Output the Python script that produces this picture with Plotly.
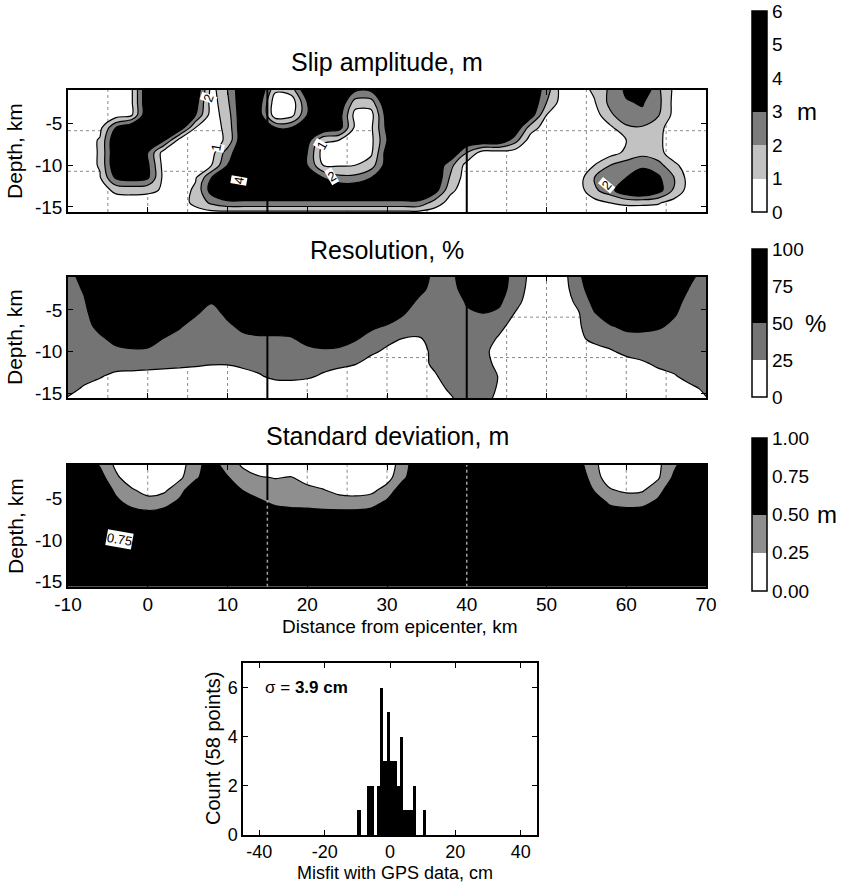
import plotly.graph_objects as go

FONT = "Liberation Sans"
W, H = 850, 882

# ---------------- data ----------------
dist_km = [-10, -8, -6, -4, -2, 0, 2, 4, 6, 8,
           10, 12, 14, 16, 18, 20, 22, 24, 26, 28,
           30, 32, 34, 36, 38, 40, 42, 44, 46, 48,
           50, 52, 54, 56, 58, 60, 62, 64, 66, 68, 70]
depth_km = [-1.0, -2.5, -4.0, -5.5, -7.0, -8.5, -10.0, -11.5, -13.0, -14.5, -15.6]

# slip amplitude, m (rows = depth_km, columns = dist_km)
slip_m = [
    [0.5, 0.5, 0.5, 0.5, 0.9, 4, 4, 4, 4, 0.6,
     2.0, 4, 4, 1.2, 1.5, 4, 4, 4, 3.2, 3.2,
     4, 4, 4, 4, 4, 4, 4, 4, 4, 4,
     2.5, 0.5, 0.5, 1.2, 2.2, 3.2, 4, 2.2, 0.8, 0.5, 0.5],
    [0.5, 0.5, 0.5, 0.5, 0.9, 4, 4, 4, 3.5, 0.5,
     1.8, 4, 3.5, 0.3, 0.3, 3.0, 4, 4, 1.5, 1.5,
     4, 4, 4, 4, 4, 4, 4, 4, 4, 4,
     2.0, 0.5, 0.5, 0.9, 2.3, 2.9, 3.1, 2.3, 0.7, 0.5, 0.5],
    [0.5, 0.5, 0.5, 0.5, 0.9, 4, 4, 4, 3.0, 0.5,
     1.5, 4, 3.5, 0.3, 0.6, 3.0, 4, 3.5, 0.6, 0.6,
     3.5, 4, 4, 4, 4, 4, 4, 4, 4, 3.6,
     1.0, 0.5, 0.5, 0.5, 1.8, 2.7, 2.8, 2.1, 0.7, 0.5, 0.5],
    [0.5, 0.5, 0.7, 3.0, 4, 4, 4, 3.8, 1.0, 0.5,
     1.3, 4, 4, 3.0, 3.0, 4, 4, 3.5, 0.8, 0.8,
     3.3, 4, 4, 4, 4, 4, 4, 4, 4, 1.5,
     0.5, 0.5, 0.5, 0.5, 0.8, 1.8, 1.9, 1.3, 0.5, 0.5, 0.5],
    [0.5, 0.5, 1.1, 4, 4, 4, 3.2, 0.6, 0.5, 0.5,
     1.2, 4, 4, 4, 4, 3.5, 1.2, 1.0, 0.5, 0.7,
     3.0, 4, 4, 4, 4, 4, 4, 4, 2.5, 0.5,
     0.5, 0.5, 0.5, 0.5, 0.5, 1.0, 1.6, 1.2, 0.5, 0.5, 0.5],
    [0.5, 0.5, 1.1, 4, 4, 3.0, 0.5, 0.5, 0.5, 0.6,
     2.5, 4, 4, 4, 4, 3.0, 0.5, 0.5, 0.5, 0.8,
     3.5, 4, 4, 4, 4, 2.0, 0.5, 0.5, 0.5, 0.5,
     0.5, 0.5, 0.5, 0.5, 0.6, 1.2, 1.8, 1.3, 0.5, 0.5, 0.5],
    [0.5, 0.5, 1.1, 4, 4, 3.2, 0.6, 0.5, 0.5, 1.0,
     3.0, 4, 4, 4, 4, 3.0, 1.0, 0.9, 1.0, 1.5,
     3.5, 4, 4, 4, 2.3, 0.6, 0.5, 0.5, 0.5, 0.5,
     0.5, 0.5, 0.5, 1.0, 2.0, 2.5, 2.5, 2.4, 1.2, 0.5, 0.5],
    [0.5, 0.5, 0.9, 3.2, 3.5, 3.2, 0.7, 0.5, 0.9, 3.0,
     4, 4, 4, 4, 4, 4, 3.0, 2.3, 2.3, 3.0,
     4, 4, 4, 4, 1.8, 0.5, 0.5, 0.5, 0.5, 0.5,
     0.5, 0.5, 0.5, 2.0, 2.7, 3.0, 4.5, 3.2, 2.0, 0.5, 0.5],
    [0.5, 0.5, 0.6, 1.2, 1.3, 1.2, 0.9, 0.5, 1.2, 3.5,
     4, 4, 4, 4, 4, 4, 4, 4, 4, 4,
     4, 4, 4, 3.5, 1.2, 0.5, 0.5, 0.5, 0.5, 0.5,
     0.5, 0.5, 0.5, 1.8, 2.6, 4.0, 4.5, 3.5, 1.8, 0.5, 0.5],
    [0.5, 0.5, 0.5, 0.5, 0.5, 0.5, 0.5, 0.5, 1.3, 2.2,
     2.8, 2.8, 2.8, 2.8, 2.8, 2.8, 2.8, 2.8, 2.8, 2.8,
     2.8, 2.8, 2.8, 1.5, 0.6, 0.5, 0.5, 0.5, 0.5, 0.5,
     0.5, 0.5, 0.5, 0.6, 1.0, 1.2, 1.2, 1.1, 0.6, 0.5, 0.5],
    [0.5, 0.5, 0.5, 0.5, 0.5, 0.5, 0.5, 0.5, 0.6, 0.8,
     0.8, 0.8, 0.8, 0.8, 0.8, 0.8, 0.8, 0.8, 0.8, 0.8,
     0.8, 0.8, 0.8, 0.6, 0.5, 0.5, 0.5, 0.5, 0.5, 0.5,
     0.5, 0.5, 0.5, 0.5, 0.5, 0.5, 0.5, 0.5, 0.5, 0.5, 0.5],
]

# resolution, %
resolution_pct = [
    [40, 60, 70, 70, 70, 70, 70, 70, 70, 70,
     70, 70, 70, 70, 70, 70, 70, 70, 70, 70,
     70, 70, 70, 40, 45, 62, 70, 66, 40, 20,
     10, 15, 45, 70, 70, 70, 70, 70, 70, 55, 40],
    [40, 52, 70, 70, 70, 70, 70, 70, 70, 70,
     70, 70, 70, 70, 70, 70, 70, 70, 70, 70,
     70, 70, 58, 40, 40, 62, 65, 63, 38, 18,
     10, 14, 40, 65, 70, 70, 70, 70, 66, 48, 40],
    [38, 48, 68, 70, 70, 70, 70, 70, 65, 52,
     65, 70, 70, 70, 70, 70, 70, 70, 70, 70,
     70, 65, 45, 40, 38, 52, 62, 55, 33, 15,
     10, 15, 30, 58, 65, 65, 65, 65, 58, 42, 40],
    [36, 45, 62, 65, 65, 65, 65, 60, 52, 40,
     55, 62, 65, 65, 65, 65, 65, 65, 65, 65,
     62, 51, 42, 40, 40, 47, 49, 45, 24, 12,
     10, 12, 23, 48, 62, 65, 65, 62, 52, 40, 40],
    [33, 42, 56, 65, 65, 65, 62, 52, 40, 38,
     45, 56, 58, 58, 60, 62, 62, 62, 60, 54,
     48, 42, 40, 38, 38, 42, 40, 32, 15, 12,
     12, 12, 22, 38, 48, 55, 56, 53, 45, 40, 40],
    [30, 38, 46, 56, 60, 60, 49, 42, 40, 40,
     42, 44, 47, 47, 48, 56, 60, 58, 52, 42,
     32, 24, 22, 35, 38, 40, 38, 22, 12, 12,
     12, 12, 18, 33, 38, 42, 42, 40, 38, 38, 40],
    [28, 35, 40, 45, 47, 46, 42, 40, 38, 36,
     36, 38, 40, 40, 42, 45, 47, 46, 40, 30,
     20, 15, 18, 30, 38, 40, 32, 15, 12, 12,
     12, 12, 12, 12, 22, 32, 38, 40, 40, 40, 40],
    [27, 32, 35, 36, 36, 34, 32, 30, 28, 26,
     26, 29, 32, 34, 34, 33, 32, 30, 26, 14,
     12, 12, 16, 30, 40, 42, 35, 18, 12, 12,
     12, 12, 12, 12, 12, 14, 20, 30, 36, 38, 40],
    [30, 30, 27, 18, 16, 15, 14, 14, 14, 14,
     14, 18, 23, 30, 31, 28, 22, 15, 12, 12,
     12, 12, 12, 22, 38, 42, 40, 24, 12, 12,
     12, 12, 12, 12, 12, 12, 12, 15, 22, 35, 40],
    [30, 23, 14, 12, 12, 12, 12, 12, 12, 12,
     12, 12, 12, 12, 12, 12, 12, 12, 12, 12,
     12, 12, 12, 14, 30, 42, 38, 22, 12, 12,
     12, 12, 12, 12, 12, 12, 12, 12, 12, 18, 30],
    [24, 12, 12, 12, 12, 12, 12, 12, 12, 12,
     12, 12, 12, 12, 12, 12, 12, 12, 12, 12,
     12, 12, 12, 12, 22, 40, 36, 18, 12, 12,
     12, 12, 12, 12, 12, 12, 12, 12, 12, 12, 24],
]

# standard deviation, m
std_dev_m = [
    [0.7, 0.7, 0.48, 0.2, 0.1, 0.1, 0.1, 0.15, 0.4, 0.65,
     0.35, 0.22, 0.1, 0.1, 0.1, 0.1, 0.1, 0.1, 0.1, 0.1,
     0.1, 0.38, 0.7, 0.7, 0.7, 0.7, 0.7, 0.7, 0.7, 0.7,
     0.7, 0.7, 0.6, 0.3, 0.1, 0.1, 0.1, 0.2, 0.45, 0.7, 0.7],
    [0.7, 0.7, 0.6, 0.3, 0.1, 0.1, 0.1, 0.2, 0.45, 0.7,
     0.52, 0.33, 0.27, 0.24, 0.26, 0.18, 0.12, 0.1, 0.1, 0.1,
     0.15, 0.45, 0.7, 0.7, 0.7, 0.7, 0.7, 0.7, 0.7, 0.7,
     0.7, 0.7, 0.7, 0.35, 0.12, 0.1, 0.1, 0.22, 0.55, 0.7, 0.7],
    [0.7, 0.7, 0.7, 0.45, 0.28, 0.15, 0.2, 0.4, 0.7, 0.7,
     0.7, 0.48, 0.38, 0.36, 0.34, 0.3, 0.26, 0.18, 0.15, 0.18,
     0.35, 0.65, 0.7, 0.7, 0.7, 0.7, 0.7, 0.7, 0.7, 0.7,
     0.7, 0.7, 0.7, 0.48, 0.27, 0.2, 0.22, 0.4, 0.7, 0.7, 0.7],
    [0.7, 0.7, 0.7, 0.56, 0.42, 0.36, 0.4, 0.56, 0.7, 0.7,
     0.7, 0.7, 0.55, 0.45, 0.42, 0.4, 0.38, 0.36, 0.36, 0.4,
     0.55, 0.7, 0.7, 0.7, 0.7, 0.7, 0.7, 0.7, 0.7, 0.7,
     0.7, 0.7, 0.7, 0.7, 0.44, 0.42, 0.42, 0.56, 0.7, 0.7, 0.7],
    [0.7, 0.7, 0.7, 0.7, 0.62, 0.58, 0.62, 0.7, 0.7, 0.7,
     0.7, 0.7, 0.7, 0.65, 0.62, 0.62, 0.6, 0.6, 0.6, 0.62,
     0.7, 0.7, 0.7, 0.7, 0.7, 0.7, 0.7, 0.7, 0.7, 0.7,
     0.7, 0.7, 0.7, 0.7, 0.7, 0.62, 0.65, 0.7, 0.7, 0.7, 0.7],
    [0.8, 0.8, 0.8, 0.8, 0.8, 0.8, 0.8, 0.8, 0.8, 0.8,
     0.8, 0.8, 0.8, 0.8, 0.8, 0.8, 0.8, 0.8, 0.8, 0.8,
     0.8, 0.8, 0.8, 0.8, 0.8, 0.8, 0.8, 0.8, 0.8, 0.8,
     0.8, 0.8, 0.8, 0.8, 0.8, 0.8, 0.8, 0.8, 0.8, 0.8, 0.8],
    [0.8, 0.8, 0.8, 0.8, 0.8, 0.8, 0.8, 0.8, 0.8, 0.8,
     0.8, 0.8, 0.8, 0.8, 0.8, 0.8, 0.8, 0.8, 0.8, 0.8,
     0.8, 0.8, 0.8, 0.8, 0.8, 0.8, 0.8, 0.8, 0.8, 0.8,
     0.8, 0.8, 0.8, 0.8, 0.8, 0.8, 0.8, 0.8, 0.8, 0.8, 0.8],
    [0.8, 0.8, 0.8, 0.8, 0.8, 0.8, 0.8, 0.8, 0.8, 0.8,
     0.8, 0.8, 0.8, 0.8, 0.8, 0.8, 0.8, 0.8, 0.8, 0.8,
     0.8, 0.8, 0.8, 0.8, 0.8, 0.8, 0.8, 0.8, 0.8, 0.8,
     0.8, 0.8, 0.8, 0.8, 0.8, 0.8, 0.8, 0.8, 0.8, 0.8, 0.8],
    [0.8, 0.8, 0.8, 0.8, 0.8, 0.8, 0.8, 0.8, 0.8, 0.8,
     0.8, 0.8, 0.8, 0.8, 0.8, 0.8, 0.8, 0.8, 0.8, 0.8,
     0.8, 0.8, 0.8, 0.8, 0.8, 0.8, 0.8, 0.8, 0.8, 0.8,
     0.8, 0.8, 0.8, 0.8, 0.8, 0.8, 0.8, 0.8, 0.8, 0.8, 0.8],
    [0.8, 0.8, 0.8, 0.8, 0.8, 0.8, 0.8, 0.8, 0.8, 0.8,
     0.8, 0.8, 0.8, 0.8, 0.8, 0.8, 0.8, 0.8, 0.8, 0.8,
     0.8, 0.8, 0.8, 0.8, 0.8, 0.8, 0.8, 0.8, 0.8, 0.8,
     0.8, 0.8, 0.8, 0.8, 0.8, 0.8, 0.8, 0.8, 0.8, 0.8, 0.8],
    [0.8, 0.8, 0.8, 0.8, 0.8, 0.8, 0.8, 0.8, 0.8, 0.8,
     0.8, 0.8, 0.8, 0.8, 0.8, 0.8, 0.8, 0.8, 0.8, 0.8,
     0.8, 0.8, 0.8, 0.8, 0.8, 0.8, 0.8, 0.8, 0.8, 0.8,
     0.8, 0.8, 0.8, 0.8, 0.8, 0.8, 0.8, 0.8, 0.8, 0.8, 0.8],
]

# GPS misfit histogram (1 cm bins)
misfit_bin_center_cm = [-9.5, -6.5, -5.5, -3.5, -2.5, -1.5, -0.5, 0.5,
                        1.5, 2.5, 3.5, 4.5, 5.5, 6.5, 7.5, 10.5]
misfit_count = [1, 2, 2, 2, 6, 3, 5, 3, 3, 2, 4, 1, 1, 1, 2, 1]

segment_boundaries_km = [15, 40]
grid_x_km = [-5, 0, 5, 10, 15, 20, 25, 30, 35, 40, 45, 50, 55, 60, 65]
subfault_rows_km = [-5.87, -10.73]

dist_ticks = [-10, 0, 10, 20, 30, 40, 50, 60, 70]
depth_ticks = [-5, -10, -15]
misfit_ticks = [-40, -20, 0, 20, 40]
count_ticks = [0, 2, 4, 6]
slip_ticks = [0, 1, 2, 3, 4, 5, 6]
res_ticks = [0, 25, 50, 75, 100]
std_ticks = [0, 0.25, 0.5, 0.75, 1.0]
std_ticktext = ["0.00", "0.25", "0.50", "0.75", "1.00"]

# ---------------- styling ----------------
T = "rgba(255,255,255,0)"
SLIP_L, SLIP_D = "#c2c2c2", "#7c7c7c"
RES_G = "#747474"
STD_G = "#8e8e8e"


def pxx(v):
    return v / W


def pyy(v):
    return 1 - v / H


def labels(vals):
    return [str(v) for v in vals]


X_DOM = [pxx(68), pxx(706)]
PANEL_Y = [[pyy(212), pyy(90)], [pyy(398), pyy(276.7)], [pyy(586.7), pyy(465)]]
HX_DOM = [pxx(243), pxx(537)]
HY_DOM = [pyy(835), pyy(663)]

slip_fill = [[0, T], [1 / 6, T], [1 / 6, SLIP_L], [0.5, SLIP_L], [0.5, SLIP_D],
             [5 / 6, SLIP_D], [5 / 6, "black"], [1, "black"]]
res_fill = [[0, T], [0.25, T], [0.25, RES_G], [0.75, RES_G], [0.75, "black"], [1, "black"]]
std_fill = [[0, T], [0.25, T], [0.25, STD_G], [0.75, STD_G], [0.75, "black"], [1, "black"]]

slip_cb = [[0, "white"], [1 / 6, "white"], [1 / 6, SLIP_L], [2 / 6, SLIP_L], [2 / 6, SLIP_D],
           [3 / 6, SLIP_D], [3 / 6, "black"], [1, "black"]]
res_cb = [[0, "white"], [0.25, "white"], [0.25, RES_G], [0.5, RES_G], [0.5, "black"], [1, "black"]]
std_cb = [[0, "white"], [0.25, "white"], [0.25, STD_G], [0.5, STD_G], [0.5, "black"], [1, "black"]]

fig = go.Figure()


def add_contour(z, start, end, size, scale, xa, ya):
    fig.add_trace(go.Contour(
        x=dist_km, y=depth_km, z=z, xaxis=xa, yaxis=ya,
        autocontour=False,
        contours=dict(start=start, end=end, size=size, coloring="fill", showlines=True),
        colorscale=scale, showscale=False,
        line=dict(color="black", width=1.2, smoothing=1.0),
        hoverinfo="skip"))


add_contour(slip_m, 1, 3, 1, slip_fill, "x", "y")
add_contour(resolution_pct, 25, 50, 25, res_fill, "x2", "y2")
add_contour(std_dev_m, 0.25, 0.5, 0.25, std_fill, "x3", "y3")


def add_cbar(scale, cmin, cmax, tickvals, ticktext, top, bottom, xa, ya):
    fig.add_trace(go.Scatter(
        x=[-100], y=[-100], mode="markers", xaxis=xa, yaxis=ya, hoverinfo="skip",
        showlegend=False,
        marker=dict(size=1, color=[cmin], colorscale=scale, cmin=cmin, cmax=cmax,
                    showscale=True,
                    colorbar=dict(x=pxx(752), xanchor="left", xpad=0,
                                  y=pyy((top + bottom) / 2), yanchor="middle",
                                  len=(bottom - top) / H, lenmode="fraction", ypad=0,
                                  thickness=15, thicknessmode="pixels",
                                  outlinewidth=1.5, outlinecolor="black", borderwidth=0,
                                  tickmode="array", tickvals=tickvals, ticktext=ticktext,
                                  ticks="", tickfont=dict(family=FONT, size=19, color="black")))))


add_cbar(slip_cb, 0, 6, slip_ticks, labels(slip_ticks), 11, 212, "x", "y")
add_cbar(res_cb, 0, 100, res_ticks, labels(res_ticks), 249, 397, "x2", "y2")
add_cbar(std_cb, 0, 1, std_ticks, std_ticktext, 438, 591, "x3", "y3")

fig.add_trace(go.Bar(
    x=misfit_bin_center_cm, y=misfit_count, width=1, xaxis="x4", yaxis="y4",
    marker=dict(color="black", line=dict(width=0)), hoverinfo="skip", showlegend=False))

# ---------------- axes ----------------
tickfont = dict(family=FONT, size=19, color="black")
common = dict(showline=True, linecolor="black", linewidth=1.5, mirror="ticks",
              ticks="inside", ticklen=5, tickwidth=1, tickcolor="black",
              showgrid=False, zeroline=False, tickfont=tickfont, tickmode="array")

layout_axes = {}
for i, ydom in enumerate(PANEL_Y):
    sx = "" if i == 0 else str(i + 1)
    layout_axes["xaxis" + sx] = dict(domain=X_DOM, range=[-10, 70], anchor="y" + sx,
                                     tickvals=dist_ticks, ticktext=labels(dist_ticks),
                                     showticklabels=(i == 2), **common)
    layout_axes["yaxis" + sx] = dict(domain=ydom, range=[-15.6, -1], anchor="x" + sx,
                                     tickvals=depth_ticks, ticktext=labels(depth_ticks), **common)
hist_common = dict(common)
hist_common["tickfont"] = dict(family=FONT, size=18, color="black")
layout_axes["xaxis4"] = dict(domain=HX_DOM, range=[-45, 45], anchor="y4",
                             tickvals=misfit_ticks, ticktext=labels(misfit_ticks), **hist_common)
layout_axes["yaxis4"] = dict(domain=HY_DOM, range=[0, 7], anchor="x4",
                             tickvals=count_ticks, ticktext=labels(count_ticks), **hist_common)

# ---------------- shapes ----------------
shapes = []
for i in range(3):
    sx = "" if i == 0 else str(i + 1)
    for gx in grid_x_km:
        shapes.append(dict(type="line", xref="x" + sx, yref="y" + sx, x0=gx, x1=gx,
                           y0=-15.6, y1=-1, layer="below",
                           line=dict(color="#8a8a8a", width=1, dash="dot")))
    for gy in subfault_rows_km:
        shapes.append(dict(type="line", xref="x" + sx, yref="y" + sx, x0=-10, x1=70,
                           y0=gy, y1=gy, layer="below",
                           line=dict(color="#8a8a8a", width=1, dash="dot")))
for sx in ["", "2"]:
    for sb in segment_boundaries_km:
        shapes.append(dict(type="line", xref="x" + sx, yref="y" + sx, x0=sb, x1=sb,
                           y0=-15.6, y1=-1, layer="above",
                           line=dict(color="black", width=2)))
for sb in segment_boundaries_km:
    shapes.append(dict(type="line", xref="x3", yref="y3", x0=sb, x1=sb,
                       y0=-15.6, y1=-1, layer="above",
                       line=dict(color="#a0a0a0", width=1.5, dash="dot")))
shapes.append(dict(type="line", xref="x3", yref="y3", x0=15, x1=15, y0=-5.2, y1=-1,
                   layer="above", line=dict(color="black", width=2)))

# ---------------- annotations ----------------
ann = []


def paper_text(text, x, y, size, angle=0, **kw):
    ann.append(dict(text=text, x=pxx(x), y=pyy(y), xref="paper", yref="paper",
                    showarrow=False, textangle=angle, xanchor="center", yanchor="middle",
                    font=dict(family=FONT, size=size, color="black"), **kw))


paper_text("Slip amplitude, m", 387, 62, 25)
paper_text("Resolution, %", 387, 250, 25)
paper_text("Standard deviation, m", 387, 436, 25)
for cy in [151, 337, 526]:
    paper_text("Depth, km", 15, cy, 21, angle=-90)
paper_text("Distance from epicenter, km", 399, 626, 19)
paper_text("m", 807, 111, 24)
paper_text("%", 815, 323, 24)
paper_text("m", 827, 514, 24)
paper_text("Count (58 points)", 213, 749, 20, angle=-90)
paper_text("Misfit with GPS data, cm", 395, 873, 18)

ann.append(dict(text="σ = <b>3.9 cm</b>", x=-39, y=6, xref="x4", yref="y4",
                showarrow=False, xanchor="left", yanchor="middle",
                font=dict(family=FONT, size=17, color="black")))

contour_labels = [
    ("2", 7.6, -2.0, -70, "x", "y"),
    ("1", 8.6, -7.9, -80, "x", "y"),
    ("4", 11.4, -11.8, -80, "x", "y"),
    ("1", 21.8, -7.6, -60, "x", "y"),
    ("2", 23.0, -11.3, -30, "x", "y"),
    ("2", 57.5, -12.4, -50, "x", "y"),
    ("0.75", -3.5, -9.9, 10, "x3", "y3"),
]
for t, lx, ly, ang, xa, ya in contour_labels:
    ann.append(dict(text=t, x=lx, y=ly, xref=xa, yref=ya, showarrow=False,
                    textangle=ang, bgcolor="white", borderpad=0,
                    font=dict(family=FONT, size=13, color="black")))

fig.update_layout(
    width=W, height=H, autosize=False,
    margin=dict(l=0, r=0, t=0, b=0, pad=0, autoexpand=False),
    paper_bgcolor="white", plot_bgcolor="white",
    font=dict(family=FONT, color="black"),
    showlegend=False, bargap=0,
    shapes=shapes, annotations=ann,
    **layout_axes)

fig.write_html(
    "out.html", config={"displayModeBar": False},
    post_script=("document.documentElement.style.margin='0px';"
                 "document.body.style.margin='0px';document.body.style.padding='0px';"
                 "document.documentElement.style.overflow='hidden';"
                 "document.body.style.overflow='hidden';"))
